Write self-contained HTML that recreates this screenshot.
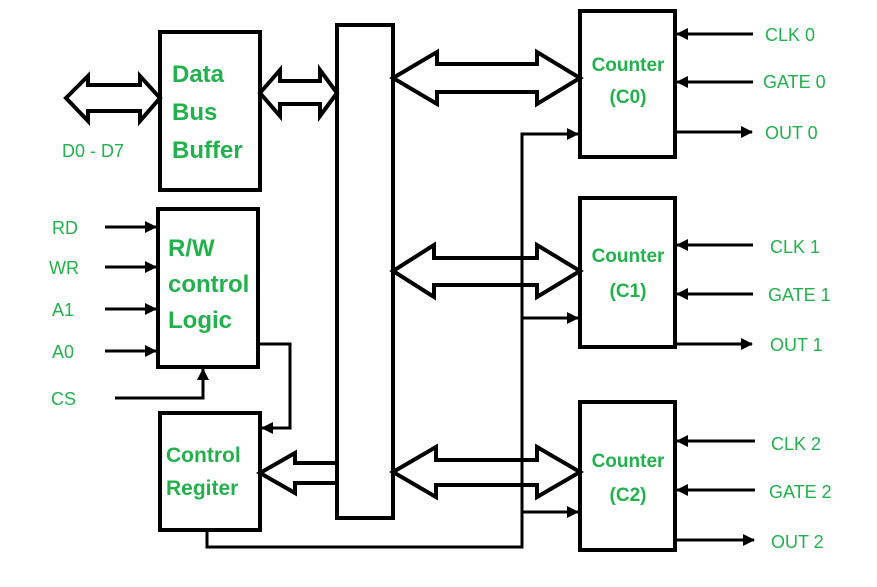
<!DOCTYPE html>
<html><head><meta charset="utf-8"><style>
html,body{margin:0;padding:0;background:#fff;}
svg{display:block;}
.b{font-family:"Liberation Sans",sans-serif;font-weight:bold;fill:#22b14c;}
.r{font-family:"Liberation Sans",sans-serif;fill:#22b14c;font-size:18px;}
</style></head><body>
<svg width="877" height="587" viewBox="0 0 877 587" xmlns="http://www.w3.org/2000/svg">
<defs>
<marker id="ah" markerWidth="12" markerHeight="12" refX="11" refY="6" orient="auto" markerUnits="userSpaceOnUse">
<path d="M0,0 L12,6 L0,12 Z" fill="#000"/>
</marker>
</defs>
<g fill="none" stroke="#000" stroke-width="4">
<rect x="160" y="32" width="100" height="158"/>
<rect x="158" y="209" width="100" height="158"/>
<rect x="160" y="413" width="100" height="117"/>
<rect x="337" y="25" width="56" height="493"/>
<rect x="580" y="11" width="95" height="146"/>
<rect x="580" y="198" width="95" height="149"/>
<rect x="580" y="402" width="95" height="148"/>
<polygon points="66,98 88,76 88,85 140,85 140,76 160,98 140,121 140,111 88,111 88,121"/>
<polygon points="260,93 280,70 280,81 320,81 320,70 337,93 320,116 320,104 280,104 280,116"/>
<polygon points="393,78 437,52 437,64 537,64 537,52 580,78 537,104 537,92 437,92 437,104"/>
<polygon points="393,271 434,245 434,258 537,258 537,245 580,271 537,297 537,285 434,285 434,297"/>
<polygon points="393,472 436,447 436,460 537,460 537,447 580,472 537,497 537,485 436,485 436,497"/>
<polygon points="260,473 295,453 295,463 337,463 337,483 295,483 295,493"/>
</g>
<g fill="none" stroke="#000" stroke-width="3">
<line x1="105" y1="227" x2="156" y2="227" marker-end="url(#ah)"/>
<line x1="105" y1="267" x2="156" y2="267" marker-end="url(#ah)"/>
<line x1="105" y1="309" x2="156" y2="309" marker-end="url(#ah)"/>
<line x1="105" y1="351" x2="156" y2="351" marker-end="url(#ah)"/>
<polyline points="115,398 203,398 203,369" marker-end="url(#ah)"/>
<polyline points="258,344 290,344 290,428 262,428" marker-end="url(#ah)"/>
<polyline points="207,530 207,547 522,547 522,134 578,134" marker-end="url(#ah)"/>
<line x1="522" y1="318" x2="578" y2="318" marker-end="url(#ah)"/>
<line x1="522" y1="512" x2="578" y2="512" marker-end="url(#ah)"/>
<line x1="753" y1="34" x2="677" y2="34" marker-end="url(#ah)"/>
<line x1="753" y1="82" x2="677" y2="82" marker-end="url(#ah)"/>
<line x1="675" y1="132" x2="752" y2="132" marker-end="url(#ah)"/>
<line x1="753" y1="245" x2="677" y2="245" marker-end="url(#ah)"/>
<line x1="753" y1="294" x2="677" y2="294" marker-end="url(#ah)"/>
<line x1="675" y1="344" x2="752" y2="344" marker-end="url(#ah)"/>
<line x1="755" y1="441" x2="677" y2="441" marker-end="url(#ah)"/>
<line x1="755" y1="490" x2="677" y2="490" marker-end="url(#ah)"/>
<line x1="675" y1="540" x2="754" y2="540" marker-end="url(#ah)"/>
</g>
<g class="b" font-size="24">
<text x="172" y="82">Data</text>
<text x="172" y="120">Bus</text>
<text x="172" y="158">Buffer</text>
<text x="168" y="256">R/W</text>
<text x="168" y="292">control</text>
<text x="168" y="328">Logic</text>
</g>
<g class="b" font-size="21">
<text x="166" y="462">Control</text>
<text x="166" y="495">Regiter</text>
</g>
<g class="b" font-size="19" text-anchor="middle">
<text x="628" y="71">Counter</text>
<text x="628" y="103">(C0)</text>
<text x="628" y="262">Counter</text>
<text x="628" y="297">(C1)</text>
<text x="628" y="467">Counter</text>
<text x="628" y="501">(C2)</text>
</g>
<g class="r">
<text x="62" y="157">D0 - D7</text>
<text x="52" y="234">RD</text>
<text x="49" y="274">WR</text>
<text x="52" y="316">A1</text>
<text x="52" y="358">A0</text>
<text x="51" y="405">CS</text>
<text x="765" y="41">CLK 0</text>
<text x="763" y="88">GATE 0</text>
<text x="765" y="139">OUT 0</text>
<text x="770" y="253">CLK 1</text>
<text x="768" y="301">GATE 1</text>
<text x="770" y="351">OUT 1</text>
<text x="771" y="450">CLK 2</text>
<text x="769" y="498">GATE 2</text>
<text x="771" y="548">OUT 2</text>
</g>
</svg>
</body></html>
